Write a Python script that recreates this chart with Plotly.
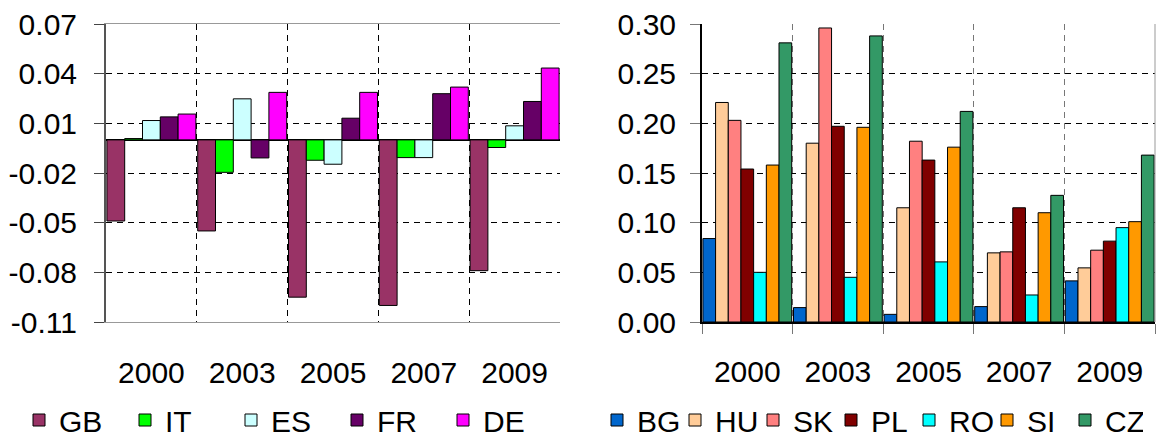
import plotly.graph_objects as go

years = ["2000", "2003", "2005", "2007", "2009"]

# Left chart series
west_names = ["GB", "IT", "ES", "FR", "DE"]
GB = [-0.049, -0.055, -0.095, -0.100, -0.079]
IT = [0.0008, -0.0196, -0.0123, -0.0107, -0.0046]
ES = [0.0117, 0.0248, -0.0147, -0.0107, 0.0085]
FR = [0.0139, -0.0109, 0.0131, 0.0279, 0.0232]
DE = [0.0156, 0.0287, 0.0287, 0.0319, 0.0434]
west_colors = ["#993366", "#00FF00", "#CCFFFF", "#660066", "#FF00FF"]

# Right chart series
east_names = ["BG", "HU", "SK", "PL", "RO", "SI", "CZ"]
BG = [0.084, 0.0145, 0.0077, 0.0155, 0.0414]
HU = [0.221, 0.180, 0.115, 0.0696, 0.0545]
SK = [0.203, 0.296, 0.182, 0.0706, 0.0723]
PL = [0.154, 0.197, 0.163, 0.115, 0.0814]
RO = [0.050, 0.045, 0.0605, 0.0272, 0.095]
SI = [0.158, 0.196, 0.176, 0.110, 0.101]
CZ = [0.281, 0.288, 0.212, 0.1275, 0.168]
east_colors = ["#0066CC", "#FFCC99", "#FF8080", "#800000", "#00FFFF", "#FF9900", "#339966"]

left_tickvals = [0.07, 0.04, 0.01, -0.02, -0.05, -0.08, -0.11]
left_ticktext = ["0.07", "0.04", "0.01", "-0.02", "-0.05", "-0.08", "-0.11"]
right_tickvals = [0.0, 0.05, 0.10, 0.15, 0.20, 0.25, 0.30]
right_ticktext = ["0.00", "0.05", "0.10", "0.15", "0.20", "0.25", "0.30"]

FONT = "Liberation Sans, Arial, sans-serif"
FS = 30

fig = go.Figure()
for name, vals, col in zip(west_names, [GB, IT, ES, FR, DE], west_colors):
    fig.add_trace(go.Bar(x=years, y=vals, name=name, marker=dict(color=col, line=dict(color="black", width=1)),
                         xaxis="x", yaxis="y", legend="legend"))
for name, vals, col in zip(east_names, [BG, HU, SK, PL, RO, SI, CZ], east_colors):
    fig.add_trace(go.Bar(x=years, y=vals, name=name, marker=dict(color=col, line=dict(color="black", width=1)),
                         xaxis="x2", yaxis="y2", legend="legend2"))

W, H = 1156, 437
ytop = 1 - 24 / H
ybot = 1 - 322 / H

grid_dash = "6px,5px"
fig.update_layout(
    width=W, height=H,
    margin=dict(l=0, r=0, t=0, b=0, autoexpand=False),
    paper_bgcolor="white", plot_bgcolor="white",
    font=dict(family=FONT, size=FS, color="black"),
    barmode="group", bargap=0.02, bargroupgap=0,
    xaxis=dict(domain=[106 / W, 560 / W], anchor="y", type="category", automargin=False,
               tickson="boundaries", ticks="", showgrid=True, gridcolor="black", griddash=grid_dash, gridwidth=1,
               showline=True, linecolor="#999999", linewidth=1, mirror=True,
               ticklabelstandoff=24, tickfont=dict(size=FS)),
    yaxis=dict(domain=[ybot, ytop], anchor="x", range=[-0.11, 0.07], automargin=False,
               tickvals=left_tickvals, ticktext=left_ticktext,
               ticks="outside", ticklen=10, tickcolor="#444", showgrid=True, gridcolor="black",
               griddash=grid_dash, gridwidth=1, showline=True, linecolor="#555555", linewidth=2,
               zeroline=True, zerolinecolor="black", zerolinewidth=2, ticklabelstandoff=11,
               tickfont=dict(size=FS)),
    xaxis2=dict(domain=[702 / W, 1155 / W], anchor="y2", type="category", automargin=False,
                tickson="boundaries", ticks="outside", ticklen=10, tickcolor="#777",
                showgrid=True, gridcolor="#777777", griddash=grid_dash, gridwidth=1,
                showline=True, linecolor="black", linewidth=2,
                ticklabelstandoff=22, tickfont=dict(size=FS)),
    yaxis2=dict(domain=[ybot, ytop], anchor="x2", range=[0, 0.30], automargin=False,
                tickvals=right_tickvals, ticktext=right_ticktext,
                ticks="outside", ticklen=10, tickcolor="#777", showgrid=True, gridcolor="black",
                griddash=grid_dash, gridwidth=1, showline=True, linecolor="black", linewidth=2,
                zeroline=False, ticklabelstandoff=8, tickfont=dict(size=FS)),
    legend=dict(orientation="h", x=19 / W, xanchor="left", y=1 - 420 / H, yanchor="middle",
                font=dict(size=FS), bgcolor="rgba(0,0,0,0)", traceorder="normal",
                entrywidth=61, entrywidthmode="pixels"),
    legend2=dict(orientation="h", x=597 / W, xanchor="left", y=1 - 420 / H, yanchor="middle",
                 font=dict(size=FS), bgcolor="rgba(0,0,0,0)", traceorder="normal",
                 entrywidth=33, entrywidthmode="pixels"),
    shapes=[
        dict(type="line", xref="x2 domain", yref="y2 domain", x0=1, x1=1, y0=0, y1=1,
             line=dict(color="#999999", width=1)),
    ],
)

fig.write_html("out.html", config={"displayModeBar": False},
               post_script="document.body.style.margin='0';document.body.style.overflow='hidden';")
